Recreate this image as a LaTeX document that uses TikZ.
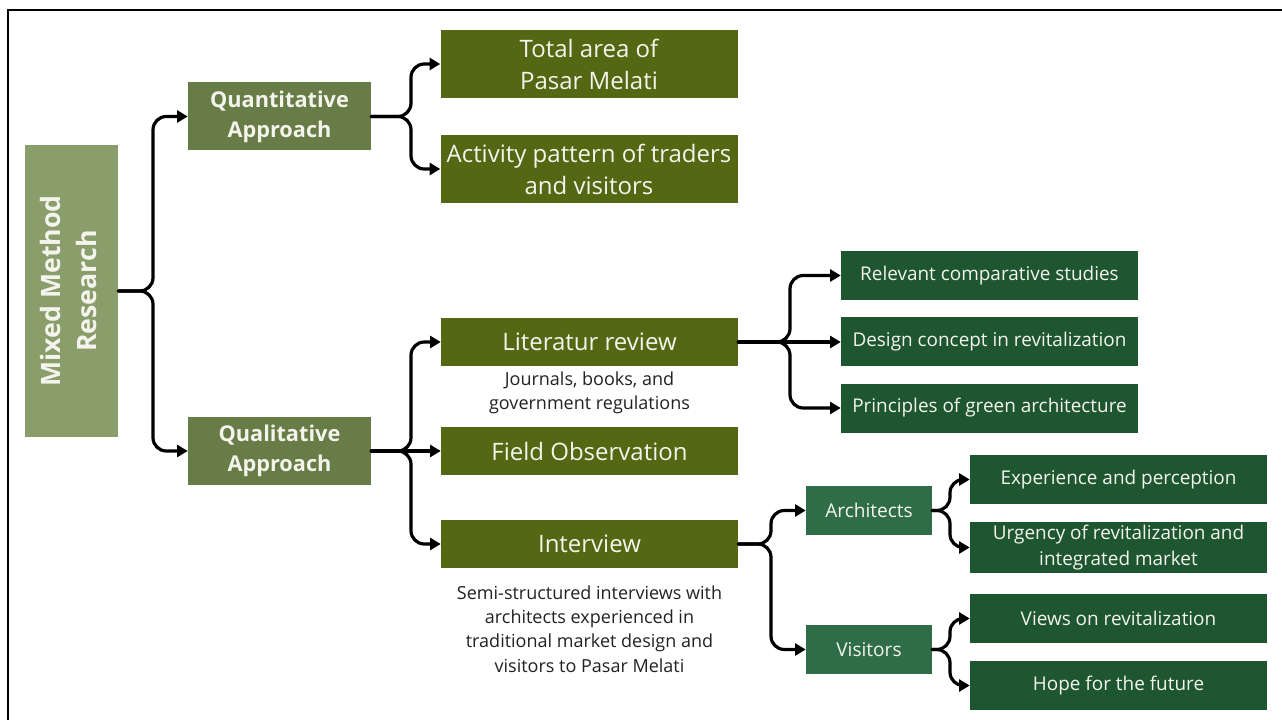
\documentclass[tikz,border=0pt]{standalone}
\usepackage{fontspec}
\setmainfont{Open Sans}
\usetikzlibrary{arrows.meta}

\definecolor{sage}{HTML}{8A9E6C}
\definecolor{moss}{HTML}{677C46}
\definecolor{olive}{HTML}{546813}
\definecolor{forest}{HTML}{1E5632}
\definecolor{fern}{HTML}{2F6C48}
\definecolor{boxtext}{HTML}{F4F4EC}
\definecolor{note}{HTML}{222222}

\begin{document}
\begin{tikzpicture}[x=0.75pt,y=-0.75pt,
  box/.style 2 args={rectangle, inner sep=0pt, align=center, text=boxtext,
    minimum width=#1*0.75pt, minimum height=#2*0.75pt},
  rootbox/.style={box={93}{292}, fill=sage, font=\bfseries\fontsize{20}{26.5}\selectfont},
  approachbox/.style={box={183}{68}, fill=moss, font=\bfseries\fontsize{16.3}{22.5}\selectfont},
  methodbox/.style={box={297}{48}, fill=olive, font=\fontsize{18}{24}\selectfont},
  tallmethodbox/.style={box={297}{68}, fill=olive, font=\fontsize{18}{24}\selectfont},
  topicbox/.style={box={297}{49}, fill=forest, font=\fontsize{14.2}{19}\selectfont},
  groupbox/.style={box={126}{49}, fill=fern, font=\fontsize{14.3}{19}\selectfont},
  notetext/.style={align=center, text=note, inner sep=0pt, font=\fontsize{13.5}{18.2}\selectfont},
  conn/.style={line width=2.4pt, rounded corners=10pt, line cap=round,
    -{Triangle[length=8pt,width=9pt]}}
]
\useasboundingbox (0,0) rectangle (1282,720);
\fill[white] (0,0) rectangle (1282,720);

% outer frame, open to the right and bottom
\draw[line width=1.5pt] (8,720) -- (8,10) -- (1282,10);

% root
\node[rootbox] (mixed) at (71.5,291) {\rotatebox{90}{\begin{tabular}{@{}c@{}}Mixed Method\\Research\end{tabular}}};

% approaches
\node[approachbox] (quant) at (279.5,116.5) {Quantitative\\Approach};
\node[approachbox] (qual) at (279.5,451) {Qualitative\\Approach};

% quantitative branch
\node[tallmethodbox] (area) at (589,64) {Total area of\\Pasar Melati};
\node[tallmethodbox] (activity) at (589,169) {Activity pattern of traders\\and visitors};

% qualitative branch
\node[methodbox] (lit) at (589.5,342) {Literatur review};
\node[notetext] (litnote) at (589.5,393) {Journals, books, and\\government regulations};
\node[methodbox] (field) at (589.5,451) {Field Observation};
\node[methodbox] (interview) at (589.5,544) {Interview};
\node[notetext] (intnote) at (589.5,629) {Semi-structured interviews with\\architects experienced in\\traditional market design and\\visitors to Pasar Melati};

% literature topics
\node[topicbox] (relevant) at (989.5,275.5) {Relevant comparative studies};
\node[topicbox] (design) at (989.5,342) {Design concept in revitalization};
\node[topicbox] (green) at (989.5,408) {Principles of green architecture};

% interview groups
\node[groupbox] (arch) at (869,510.5) {Architects};
\node[groupbox] (visit) at (869,649.5) {Visitors};

% interview topics
\node[topicbox] (exp) at (1118.5,479.5) {Experience and perception};
\node[topicbox, minimum height=51*0.75pt] (urg) at (1118.5,547.5) {Urgency of revitalization and\\integrated market};
\node[topicbox] (views) at (1118.5,618.5) {Views on revitalization};
\node[topicbox] (hope) at (1118.5,685.5) {Hope for the future};

% branch points
\coordinate (jroot) at (153,0);
\coordinate (jquant) at (411,0);
\coordinate (jqual) at (411,0);
\coordinate (jlit) at (790,0);
\coordinate (jint) at (771,0);
\coordinate (jarch) at (950,0);
\coordinate (jvisit) at (950,0);

% connectors
\draw[conn] (mixed.east) -- (mixed.east -| jroot) |- (quant.west);
\draw[conn] (mixed.east) -- (mixed.east -| jroot) |- (qual.west);

\draw[conn] (quant.east) -- (quant.east -| jquant) |- (area.west);
\draw[conn] (quant.east) -- (quant.east -| jquant) |- (activity.west);

\draw[conn] (qual.east) -- (qual.east -| jqual) |- (lit.west);
\draw[conn] (qual.east) -- (field.west);
\draw[conn] (qual.east) -- (qual.east -| jqual) |- (interview.west);

\draw[conn] (lit.east) -- (lit.east -| jlit) |- (relevant.west);
\draw[conn] (lit.east) -- (design.west);
\draw[conn] (lit.east) -- (lit.east -| jlit) |- (green.west);

\draw[conn] (interview.east) -- (interview.east -| jint) |- (arch.west);
\draw[conn] (interview.east) -- (interview.east -| jint) |- (visit.west);

\draw[conn] (arch.east) -- (arch.east -| jarch) |- (exp.west);
\draw[conn] (arch.east) -- (arch.east -| jarch) |- (urg.west);

\draw[conn] (visit.east) -- (visit.east -| jvisit) |- (views.west);
\draw[conn] (visit.east) -- (visit.east -| jvisit) |- (hope.west);
\end{tikzpicture}
\end{document}
